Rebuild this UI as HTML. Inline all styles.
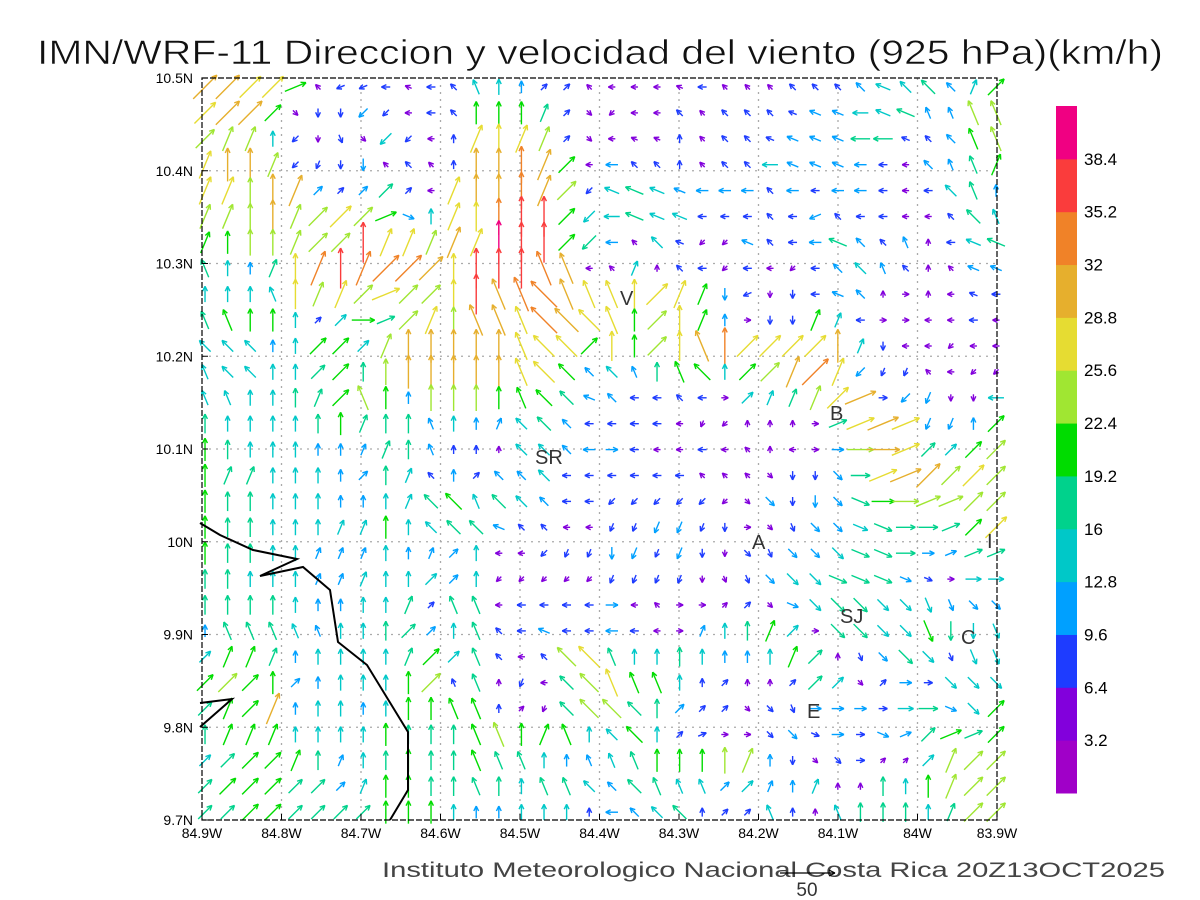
<!DOCTYPE html>
<html><head><meta charset="utf-8"><style>
html,body{margin:0;padding:0;background:#fff;}
svg{display:block;font-family:"Liberation Sans",sans-serif;}
</style></head><body>
<svg id="chart" width="1200" height="900" viewBox="0 0 1200 900" xmlns="http://www.w3.org/2000/svg">
<rect width="1200" height="900" fill="#fff"/>
<text x="37" y="64" font-size="34" textLength="1126" lengthAdjust="spacingAndGlyphs" fill="#111" stroke="#fff" stroke-width="0.6">IMN/WRF-11 Direccion y velocidad del viento (925 hPa)(km/h)</text>
<g id="grid"></g>
<g id="arrows"></g>
<g fill="none" stroke="#000" stroke-width="2">
<polyline points="200,523 220,535 253,550 297,559 260,576 303,567 330,590 338,642 367,665 408,732 408,790 390,820"/>
<polyline points="200,703 232,699 200,727"/>
</g>
<rect x="202" y="78" width="795" height="742" fill="none" stroke="#000" stroke-width="1.2" stroke-dasharray="6,2"/>
<g id="axes" font-size="14" fill="#000"></g>
<g font-size="20" fill="#333">
<text x="620" y="305">V</text>
<text x="830" y="420">B</text>
<text x="535" y="464">SR</text>
<text x="752" y="549">A</text>
<text x="987" y="548">I</text>
<text x="840" y="623">SJ</text>
<text x="961" y="644">C</text>
<text x="807" y="718">E</text>
</g>
<g id="cbar"></g>
<text x="382" y="877" font-size="21" textLength="783" lengthAdjust="spacingAndGlyphs" fill="#444">Instituto Meteorologico Nacional Costa Rica 20Z13OCT2025</text>
<g stroke="#000" stroke-width="1.2" fill="none">
<line x1="780" y1="873" x2="835" y2="873"/><line x1="835" y1="873" x2="829" y2="870"/><line x1="835" y1="873" x2="829" y2="876"/>
</g>
<text x="807" y="896" font-size="19" text-anchor="middle" fill="#333">50</text>
</svg>
<script>
const lonTicks=[-84.9,-84.8,-84.7,-84.6,-84.5,-84.4,-84.3,-84.2,-84.1,-84.0,-83.9];
const lonLabels=["84.9W","84.8W","84.7W","84.6W","84.5W","84.4W","84.3W","84.2W","84.1W","84W","83.9W"];
const latTicks=[9.7,9.8,9.9,10.0,10.1,10.2,10.3,10.4,10.5];
const latLabels=["9.7N","9.8N","9.9N","10N","10.1N","10.2N","10.3N","10.4N","10.5N"];
const cbarLabels=["3.2","6.4","9.6","12.8","16","19.2","22.4","25.6","28.8","32","35.2","38.4"];
const cbarColors=["#a000c8","#8200dc","#1e3cff","#00a0ff","#00c8c8","#00d28c","#00dc00","#a0e632","#e6dc32","#e6af2d","#f08228","#fa3c3c","#f00082"];
const gridLon0=-84.8962, gridDLon=0.028428, gridLat0=10.4903, gridDLat=0.027925;
// direction letters: a=N, clockwise 22.5deg steps; speed code c -> (c+0.5)*3.2 km/h
const dirRows=[
"ccccdollmnmopaaccommmnmooooooonooobc",
"ccccgiikkmmoaaabcgkmmooooonnnmnnpppp",
"cbbakihgkkmababbcgmnnaooonnnnmmnoopp",
"baabkjiioooaaaabcmmooaooomnnnmmmoppb",
"bbaabcccccmbaaabcknnnnmmmommmmmmmopa",
"bbaabcccdfabaaaackmnnnmmmomlommmmoop",
"baaabccabbbbbaaackmoonkknommnoopamnn",
"paabababcccaaaappmobaomkmmkmoopoaonn",
"aaapabbcdccaappopppacbbiliimnoaeamnm",
"ppaaaccedcbapppooopacabaeiibbmeemmmm",
"oooaacccbaaaaapoocaacapaccccabimmkmm",
"pooaaccaaaaaaapoooopapoaccbcbkjjomkk",
"ppaaabcpaaaaaapoonommomecbbbcdekjiim",
"aaaaaaabaapaabooommmmmjkaaaeddddjjac",
"aaaaaaabbapaaaooomemmmmmoameeeedcccc",
"abbaaaacaboacooommmmmmooogiigeddcccc",
"aaaaaaaaaboopooommkkkkkkggiigfeeddcc",
"aaaaaabbaaooonoommjjjjjieghggffeedcc",
"aaaaabbbaabcammkjjijjjiighgggffeeddd",
"aaaaabbbaaccakkkkkjjjjihhgggfffffeee",
"aaaaaaaaabcppmmmmmemoeeccgfggggghhgg",
"apppppaaaccapomnmmmmmebaabcegggghiih",
"cbbbaaaaabccpomooopaaaaaaabcahggghhh",
"cccacaaaaacppajmoopppaacaacccgceeggg",
"cbcbaaaaaaappacjooooacccggheeeeeefgc",
"abbbaaaaaaaappabpaooacdeeggfeefdcddc",
"ccccbabaaaaapppaapppaaaabaiggecccbcc",
"cccccccbaaaapaappooopppccbabaaaaabcc",
"ccccccccaaaaaaaaaamoooaccpaapaaaabcc"];
const spdRows=[
"998861222122443221111121112223445346",
"899612232122666521111212222334453377",
"777421214212888721111212223335522367",
"89972223121299A961322212243333213356",
"88799323521899A972454333323233212453",
"7779778763488ABB64454422222322211254",
"6677777B88798CBB65314211322353231245",
"54358ABAAA98BBBA91141221211234321133",
"444487878778B9AA98888863212233111122",
"566642465787998A98867863122642111121",
"44434664799999888686789A888894211111",
"444445657999998863435664679A83221111",
"444455676377766653322221445789233114",
"544445655534334532222111111158983336",
"654443335532214433321121111137985467",
"655444335423233422222211112235899787",
"655444334456454322222221132335677777",
"655444446445532211223322112334555568",
"655443334333411222332321223345553355",
"554443344443411111222211234455532144",
"555543344525512222311111213455444333",
"355543445534522322321134564155446544",
"466534444564521278544543346512354244",
"676633444672512157866422112541232444",
"566934434666621157755322122333245346",
"566644446555676664464221123232335656",
"456665345655655433456667732122114777",
"566655346655554554355443433411546777",
"556655556664334442334522242145554577"];

const NS="http://www.w3.org/2000/svg";
const X0=202,X1=997,Y0=78,Y1=820;
function xOf(lon){return X0+(lon+84.9)/1.0*(X1-X0);}
function yOf(lat){return Y1-(lat-9.7)/0.8*(Y1-Y0);}
function mk(tag,attrs,parent){const e=document.createElementNS(NS,tag);for(const k in attrs)e.setAttribute(k,attrs[k]);parent.appendChild(e);return e;}

const grid=document.getElementById('grid');
lonTicks.slice(1,-1).forEach(lon=>{
  const l=mk('line',{x1:xOf(lon),x2:xOf(lon),y1:Y0,y2:Y1,stroke:'#aaa','stroke-width':1.3,'stroke-dasharray':'2,5'},grid);
  
  
});
latTicks.slice(1,-1).forEach(lat=>{
  const l=mk('line',{x1:X0,x2:X1,y1:yOf(lat),y2:yOf(lat),stroke:'#aaa','stroke-width':1.3,'stroke-dasharray':'2,5'},grid);
  
  
});

const axes=document.getElementById('axes');
lonTicks.forEach((lon,i)=>{
  const t=mk('line',{x1:xOf(lon),x2:xOf(lon),y1:Y1,y2:Y1-6,stroke:'#000'},axes);
  
  
  const tx=mk('text',{x:xOf(lon),y:Y1+18,'text-anchor':'middle'},axes);
  
  
  tx.textContent=lonLabels[i];
});
latTicks.forEach((lat,i)=>{
  const t=mk('line',{x1:X0,x2:X0+6,y1:yOf(lat),y2:yOf(lat),stroke:'#000'},axes);
  
  
  const tx=mk('text',{x:X0-9,y:yOf(lat)+5,'text-anchor':'end'},axes);
  
  
  tx.textContent=latLabels[i];
});

const arrows=document.getElementById('arrows');
const DIRS="abcdefghijklmnop";
const PXPERKMH=1.1;
dirRows.forEach((row,k)=>{
  for(let i=0;i<row.length;i++){
    const d=DIRS.indexOf(row[i]); if(d<0)continue;
    const code=parseInt(spdRows[k][i],16);
    const spd=(code+0.5)*3.2;
    const cx=xOf(gridLon0+i*gridDLon), cy=yOf(gridLat0-k*gridDLat);
    const ang=d*22.5*Math.PI/180;
    const L=Math.max(spd*PXPERKMH,7);
    const dx=Math.sin(ang)*L/2, dy=-Math.cos(ang)*L/2;
    const hx=cx+dx, hy=cy+dy, tx=cx-dx, ty=cy-dy;
    const col=cbarColors[Math.min(code,12)];
    const g=mk('g',{stroke:col,'stroke-width':1.4,fill:'none'},arrows);
    
    
    mk('line',{x1:tx,y1:ty,x2:hx,y2:hy},g);
    const hl=5.5;
    [ang+Math.PI-0.45, ang+Math.PI+0.45].forEach(a=>{
      mk('line',{x1:hx,y1:hy,x2:hx+Math.sin(a)*hl,y2:hy-Math.cos(a)*hl},g);
    });
  }
});

const cbar=document.getElementById('cbar');
const cbTop=106,cbBot=793,cbX=1056,cbW=21;
const segH=(cbBot-cbTop)/cbarColors.length;
cbarColors.forEach((c,i)=>{
  const r=mk('rect',{x:cbX,y:cbBot-(i+1)*segH,width:cbW,height:segH+0.5,fill:c},cbar);
  
  
});
cbarLabels.forEach((lab,i)=>{
  const t=mk('text',{x:1084,y:cbBot-(i+1)*segH+6,'font-size':17,fill:'#000'},cbar);
  
  
  t.textContent=lab;
});
</script>
</body></html>
